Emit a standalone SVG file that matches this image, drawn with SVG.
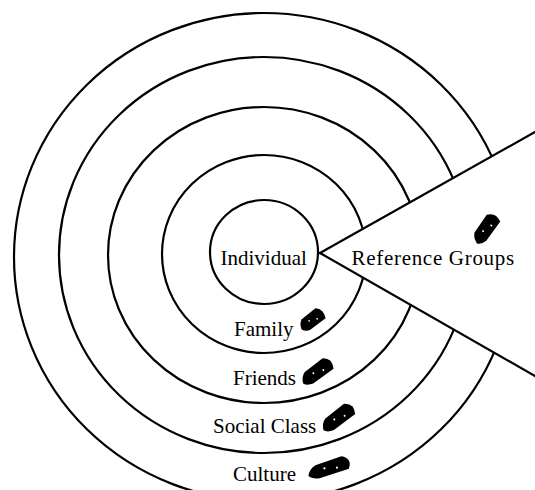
<svg xmlns="http://www.w3.org/2000/svg" xmlns:xlink="http://www.w3.org/1999/xlink" width="535" height="490" viewBox="0 0 535 490">
<style>
.ring{fill:none;stroke:#000;stroke-width:2.2}
.edge{fill:none;stroke:#000;stroke-width:2.2;stroke-linecap:round}
.lbl{font-family:"Liberation Serif","Times New Roman",serif;font-size:21px;fill:#000}
</style>
<defs>
<clipPath id="outside">
<path clip-rule="evenodd" d="M0 0H535V490H0Z M320 253 L535 132 L535 376 Z"/>
</clipPath>
<g id="blob">
<path d="M-20,1 Q-17,-5 -11,-6.5 L14,-7 Q23,-2 17,6.5 L-11,6.5 Q-18,5 -20,1 Z" fill="#000"/>
<circle cx="-4" cy="-1" r="1" fill="#fff"/>
<circle cx="7" cy="2" r="1" fill="#fff"/>
</g>
</defs>
<rect width="535" height="490" fill="#fff"/>
<g id="rings" clip-path="url(#outside)">
<g id="culture"><ellipse class="ring" cx="264" cy="257" rx="250" ry="244"/></g>
<g id="social-class"><ellipse class="ring" cx="264" cy="255" rx="205" ry="198"/></g>
<g id="friends"><ellipse class="ring" cx="264" cy="255" rx="156" ry="148"/></g>
<g id="family"><ellipse class="ring" cx="264" cy="254" rx="102" ry="99"/></g>
</g>
<g id="connectors">
<line class="edge" x1="320" y1="253" x2="535" y2="132"/>
<line class="edge" x1="320" y1="253" x2="535" y2="376"/>
</g>
<g id="individual">
<ellipse class="ring" cx="264" cy="252" rx="54" ry="52"/>
<text class="lbl" x="220.5" y="265">Individual</text>
</g>
<g id="reference-groups">
<text class="lbl" x="351.5" y="265" letter-spacing="0.7">Reference Groups</text>
<use xlink:href="#blob" transform="translate(486,229) rotate(-54) scale(0.85,1.1)"/>
</g>
<g id="family-label">
<text class="lbl" x="234" y="336">Family</text>
<use xlink:href="#blob" transform="translate(312,320) rotate(-37) scale(0.7,1.05)"/>
</g>
<g id="friends-label">
<text class="lbl" x="233" y="385">Friends</text>
<use xlink:href="#blob" transform="translate(317,372) rotate(-36) scale(0.9,1.1)"/>
</g>
<g id="social-class-label">
<text class="lbl" x="213" y="433">Social Class</text>
<use xlink:href="#blob" transform="translate(338,418) rotate(-37) scale(0.95,1.1)"/>
</g>
<g id="culture-label">
<text class="lbl" x="233" y="481">Culture</text>
<use xlink:href="#blob" transform="translate(329,468) rotate(-18) scale(1.1,1.05)"/>
</g>
</svg>
